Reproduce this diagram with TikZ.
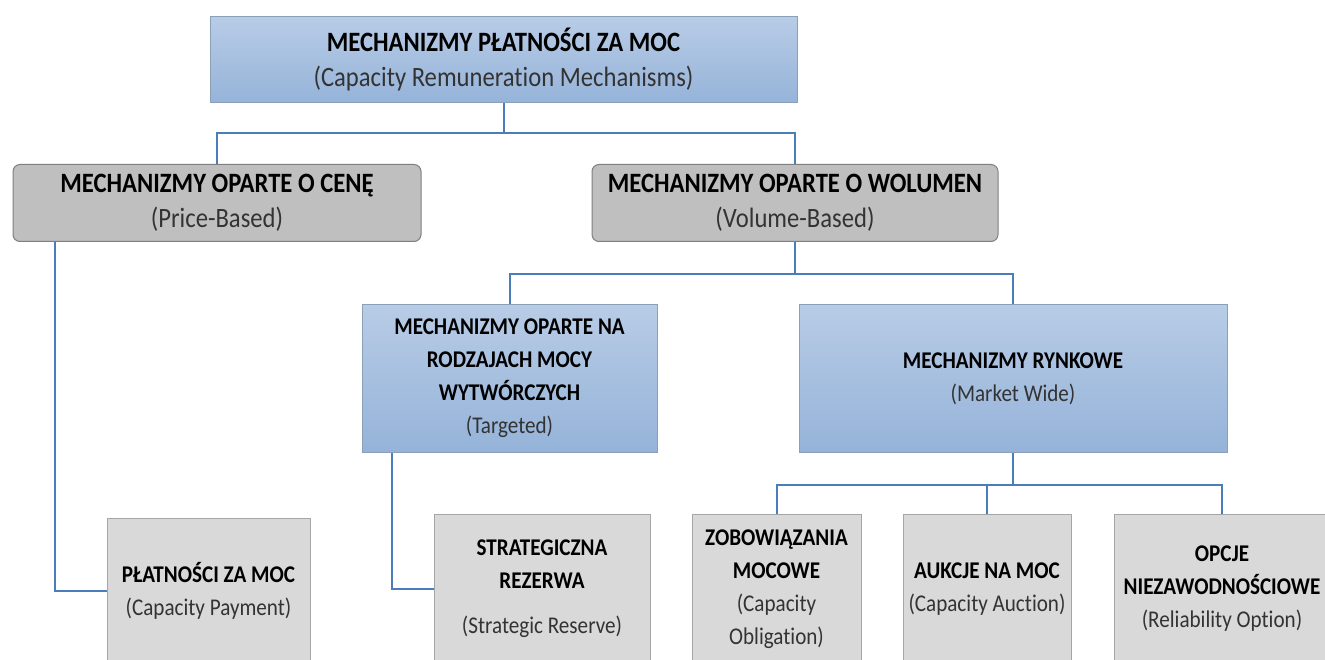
\documentclass[tikz,border=0pt]{standalone}
\usepackage{fontspec}
\setmainfont{Carlito}[FakeStretch=0.88,Ligatures=NoCommon]
\definecolor{connblue}{HTML}{4A7EBB}
\definecolor{blueTop}{HTML}{B8CCE6}
\definecolor{blueBot}{HTML}{95B3D9}
\definecolor{blueBorder}{HTML}{8A9FB8}
\definecolor{midgray}{HTML}{BFBFBF}
\definecolor{midBorder}{HTML}{7F7F7F}
\definecolor{lightgrayfill}{HTML}{D9D9D9}
\definecolor{lightBorder}{HTML}{A6A6A6}
\definecolor{txt}{HTML}{333333}
\newcommand{\hd}[1]{\textcolor{black}{\textbf{#1}}}
\begin{document}
\begin{tikzpicture}[x=1pt,y=-1pt,
  conn/.style={draw=connblue,line width=2pt},
  bluebox/.style={draw=blueBorder,line width=1pt,top color=blueTop,bottom color=blueBot,align=center,inner sep=0pt,text=txt},
  midbox/.style={draw=midBorder,line width=1pt,fill=midgray,rounded corners=7pt,align=center,inner sep=0pt,text=txt},
  lowbox/.style={draw=lightBorder,line width=1pt,fill=lightgrayfill,align=center,inner sep=0pt,text=txt},
  bigtext/.style={font=\fontsize{28}{35}\selectfont},
  smalltext/.style={font=\fontsize{24}{33}\selectfont}
]
\clip (0,0) rectangle (1325,660);
\fill[white] (0,0) rectangle (1325,660);

\node[bluebox,bigtext,minimum width=587pt,minimum height=86pt] (top) at (503.5,60)
  {\hd{MECHANIZMY PŁATNOŚCI ZA MOC}\\(Capacity Remuneration Mechanisms)};

\node[midbox,bigtext,minimum width=408pt,minimum height=77pt] (price) at (217,203)
  {\hd{MECHANIZMY OPARTE O CENĘ}\\(Price-Based)};
\node[midbox,bigtext,minimum width=406pt,minimum height=77pt] (volume) at (795,203)
  {\hd{MECHANIZMY OPARTE O WOLUMEN}\\(Volume-Based)};

\node[bluebox,smalltext,minimum width=295pt,minimum height=147pt] (targ) at (509.5,378.5)
  {\hd{MECHANIZMY OPARTE NA}\\\hd{RODZAJACH MOCY}\\\hd{WYTWÓRCZYCH}\\(Targeted)};
\node[bluebox,smalltext,minimum width=428pt,minimum height=147pt] (market) at (1013,378.5)
  {\hd{MECHANIZMY RYNKOWE}\\(Market Wide)};

\node[lowbox,smalltext,minimum width=203pt,minimum height=146pt] (plat) at (208.5,591)
  {\hd{PŁATNOŚCI ZA MOC}\\(Capacity Payment)};
\node[lowbox,smalltext,minimum width=216pt,minimum height=150pt] (strat) at (542,589)
  {\hd{STRATEGICZNA}\\\hd{REZERWA}\\[12pt](Strategic Reserve)};
\node[lowbox,smalltext,minimum width=169pt,minimum height=150pt] (zob) at (776.5,589)
  {\hd{ZOBOWIĄZANIA}\\\hd{MOCOWE}\\(Capacity\\Obligation)};
\node[lowbox,smalltext,minimum width=168pt,minimum height=150pt] (auk) at (987,589)
  {\hd{AUKCJE NA MOC}\\(Capacity Auction)};
\node[lowbox,smalltext,minimum width=216pt,minimum height=150pt] (opc) at (1222,589)
  {\hd{OPCJE}\\\hd{NIEZAWODNOŚCIOWE}\\(Reliability Option)};

% connectors
\draw[conn] (top.south) -- ++(0,30) coordinate (j1);
\draw[conn] (price.north) |- (j1) -| (volume.north);
\draw[conn] ([xshift=-162pt]price.south) |- (plat.west);
\draw[conn] (volume.south) -- ++(0,32) coordinate (j2);
\draw[conn] (targ.north) |- (j2) -| (market.north);
\draw[conn] ([xshift=-117.5pt]targ.south) |- (strat.west);
\draw[conn] (market.south) -- ++(0,32) coordinate (j3);
\draw[conn] (zob.north) |- (j3) -| (opc.north);
\draw[conn] (auk.north) -- (auk.north |- j3);
\end{tikzpicture}
\end{document}
